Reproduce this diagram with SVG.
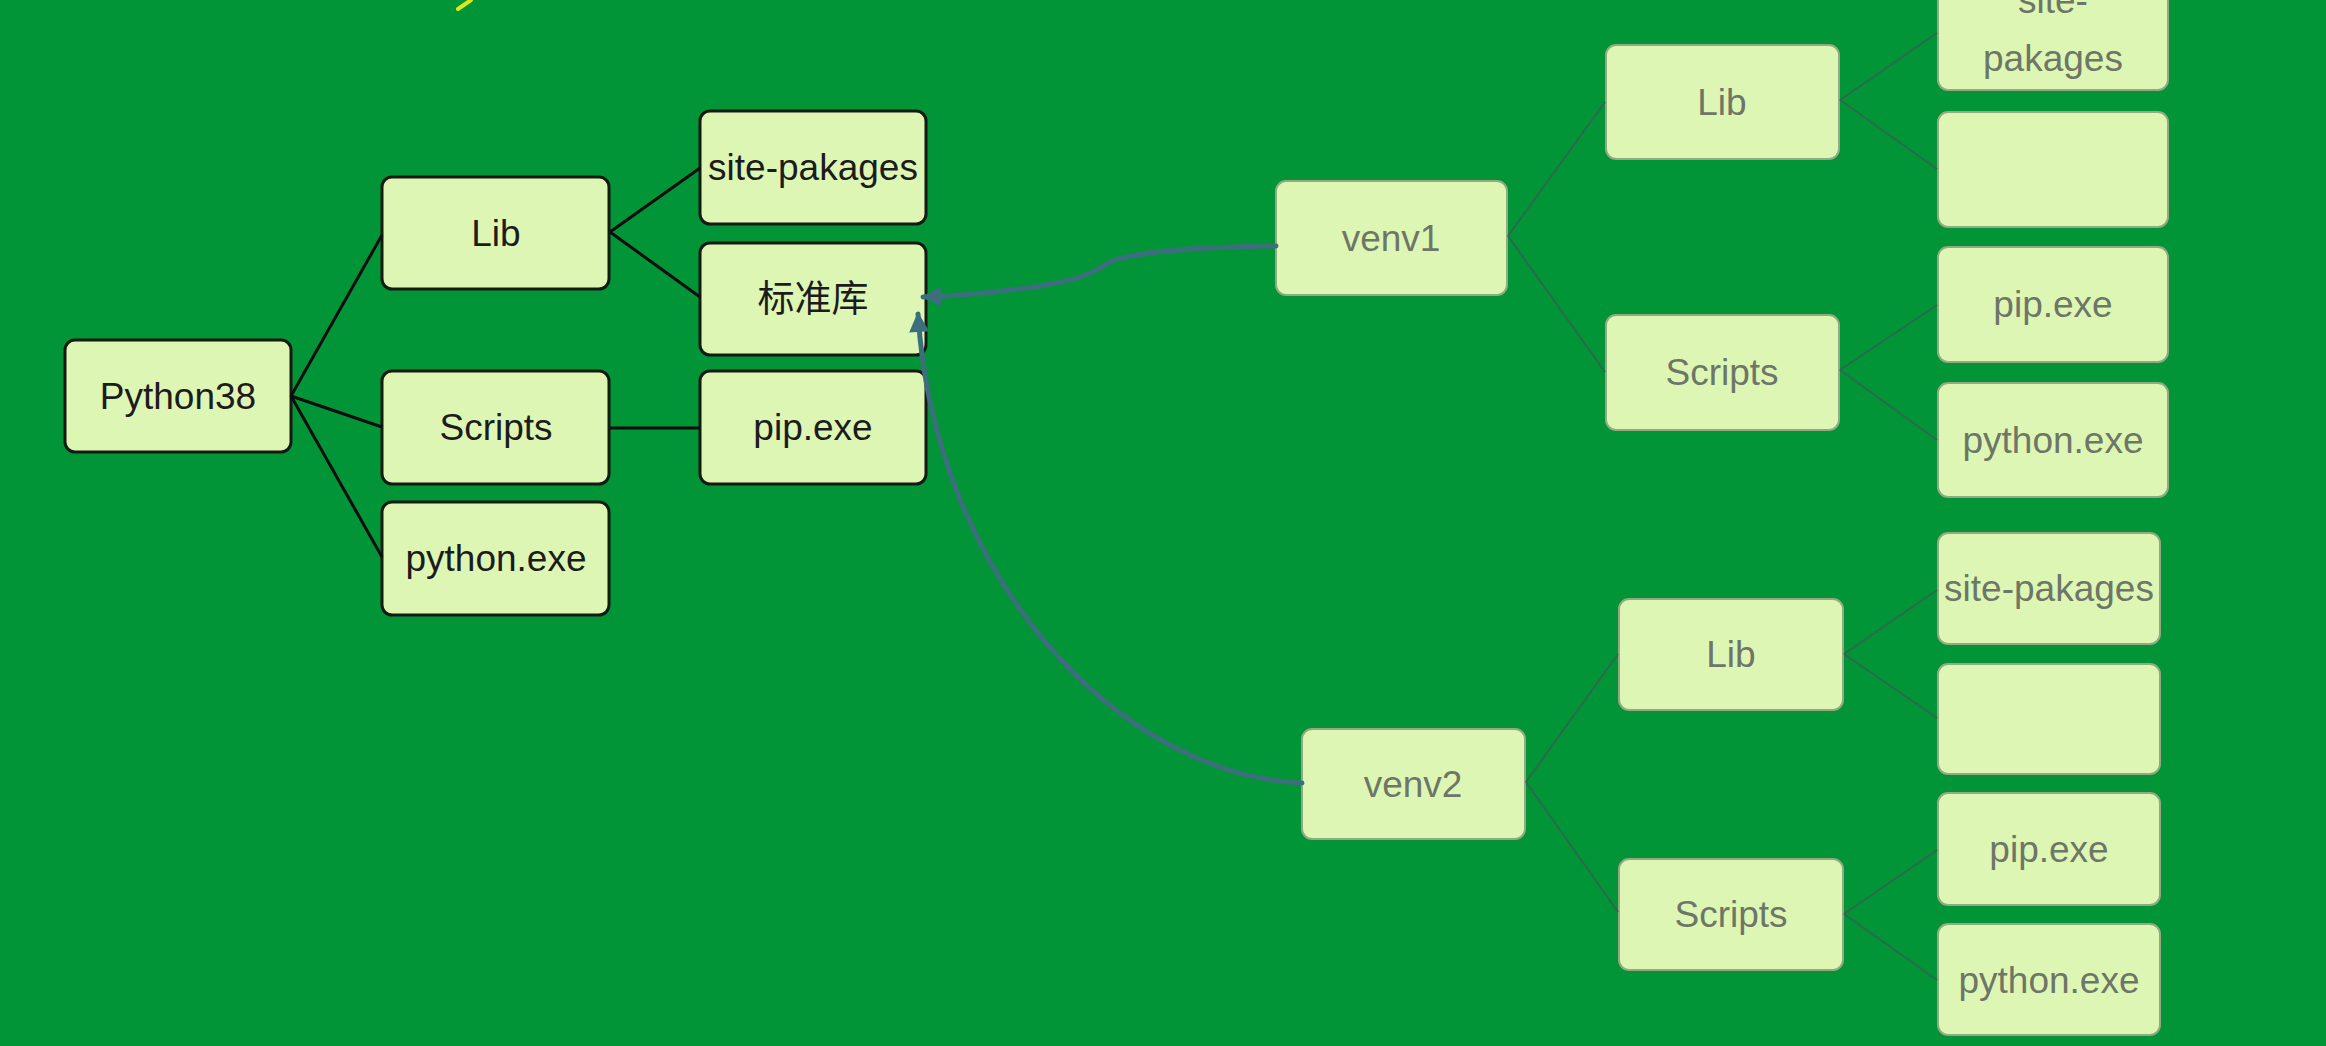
<svg xmlns="http://www.w3.org/2000/svg" width="2326" height="1046" viewBox="0 0 2326 1046">
  <defs>
    <style>
      .bg { fill: #019537; }
      .box { fill: #def6b4; stroke: #151a12; stroke-width: 3; }
      .vbox { fill: #def6b4; stroke: #93a982; stroke-width: 2; }
      .lbl { font-family: "Liberation Sans", "Noto Sans CJK SC", sans-serif; font-size: 37px; text-anchor: middle; fill: #1c1c1c; }
      .vlbl { font-family: "Liberation Sans", "Noto Sans CJK SC", sans-serif; font-size: 37px; text-anchor: middle; fill: #6d7667; }
      .edge { fill: none; stroke: #0d0d0d; stroke-width: 3; }
      .vedge { fill: none; stroke: #2d6a4c; stroke-width: 2; }
      .ref { fill: none; stroke: #3c6f7c; stroke-width: 5; stroke-linecap: round; }
    </style>
    <marker id="head" viewBox="0 0 10 10" refX="9" refY="5" markerWidth="4.4" markerHeight="4" markerUnits="strokeWidth" orient="auto">
      <path d="M0,0 L10,5 L0,10 z" fill="#3c6f7c"/>
    </marker>
  </defs>

  <rect class="bg" x="0" y="0" width="2326" height="1046"/>

  <!-- small yellow stroke at the top edge -->
  <path d="M471,0 L458,9" stroke="#d8e81c" stroke-width="4" fill="none" stroke-linecap="round"/>

  <!-- Python38 installation -->
  <g id="python38"><rect class="box" x="65" y="340" width="226" height="112" rx="10"/><text class="lbl" x="178" y="409">Python38</text></g>
  <g id="lib"><rect class="box" x="382" y="177" width="227" height="112" rx="10"/><text class="lbl" x="496" y="246">Lib</text></g>
  <g id="scripts"><rect class="box" x="382" y="371" width="227" height="113" rx="10"/><text class="lbl" x="496" y="440">Scripts</text></g>
  <g id="python-exe"><rect class="box" x="382" y="502" width="227" height="113" rx="10"/><text class="lbl" x="496" y="571">python.exe</text></g>
  <g id="site-pakages"><rect class="box" x="700" y="111" width="226" height="113" rx="10"/><text class="lbl" x="813" y="180">site-pakages</text></g>
  <g id="stdlib"><rect class="box" x="700" y="243" width="226" height="112" rx="10"/><text class="lbl" x="813" y="312">标准库</text></g>
  <g id="pip-exe"><rect class="box" x="700" y="371" width="226" height="113" rx="10"/><text class="lbl" x="813" y="440">pip.exe</text></g>

  <!-- venv1 -->
  <g id="venv1"><rect class="vbox" x="1276" y="181" width="231" height="114" rx="10"/><text class="vlbl" x="1391" y="251">venv1</text></g>
  <g id="venv1-lib"><rect class="vbox" x="1606" y="45" width="233" height="114" rx="10"/><text class="vlbl" x="1722" y="115">Lib</text></g>
  <g id="venv1-scripts"><rect class="vbox" x="1606" y="315" width="233" height="115" rx="10"/><text class="vlbl" x="1722" y="385">Scripts</text></g>
  <g id="venv1-site"><rect class="vbox" x="1938" y="-24" width="230" height="114" rx="10"/><text class="vlbl" x="2053" y="13">site-</text><text class="vlbl" x="2053" y="71">pakages</text></g>
  <g id="venv1-empty"><rect class="vbox" x="1938" y="112" width="230" height="115" rx="10"/></g>
  <g id="venv1-pip"><rect class="vbox" x="1938" y="247" width="230" height="115" rx="10"/><text class="vlbl" x="2053" y="317">pip.exe</text></g>
  <g id="venv1-python"><rect class="vbox" x="1938" y="383" width="230" height="114" rx="10"/><text class="vlbl" x="2053" y="453">python.exe</text></g>

  <!-- venv2 -->
  <g id="venv2"><rect class="vbox" x="1302" y="729" width="223" height="110" rx="10"/><text class="vlbl" x="1413" y="797">venv2</text></g>
  <g id="venv2-lib"><rect class="vbox" x="1619" y="599" width="224" height="111" rx="10"/><text class="vlbl" x="1731" y="667">Lib</text></g>
  <g id="venv2-scripts"><rect class="vbox" x="1619" y="859" width="224" height="111" rx="10"/><text class="vlbl" x="1731" y="927">Scripts</text></g>
  <g id="venv2-site"><rect class="vbox" x="1938" y="533" width="222" height="111" rx="10"/><text class="vlbl" x="2049" y="601">site-pakages</text></g>
  <g id="venv2-empty"><rect class="vbox" x="1938" y="664" width="222" height="110" rx="10"/></g>
  <g id="venv2-pip"><rect class="vbox" x="1938" y="793" width="222" height="112" rx="10"/><text class="vlbl" x="2049" y="862">pip.exe</text></g>
  <g id="venv2-python"><rect class="vbox" x="1938" y="924" width="222" height="111" rx="10"/><text class="vlbl" x="2049" y="993">python.exe</text></g>

  <!-- connectors, drawn last so the arrowheads sit over the boxes -->
  <g id="connectors">
    <!-- Python38 tree -->
    <path class="edge" d="M291,396 L382,235"/>
    <path class="edge" d="M291,396 L382,427"/>
    <path class="edge" d="M291,396 L382,557"/>
    <path class="edge" d="M610,232 L700,168"/>
    <path class="edge" d="M610,232 L700,297"/>
    <path class="edge" d="M610,428 L700,428" stroke-width="5"/>
    <!-- venv1 tree -->
    <path class="vedge" d="M1508,236 L1605,102"/>
    <path class="vedge" d="M1508,236 L1605,372"/>
    <path class="vedge" d="M1840,100 L1937,33"/>
    <path class="vedge" d="M1840,100 L1937,169"/>
    <path class="vedge" d="M1840,370 L1937,305"/>
    <path class="vedge" d="M1840,370 L1937,440"/>
    <!-- venv2 tree -->
    <path class="vedge" d="M1526,782 L1618,654"/>
    <path class="vedge" d="M1526,782 L1618,912"/>
    <path class="vedge" d="M1844,654 L1937,590"/>
    <path class="vedge" d="M1844,654 L1937,718"/>
    <path class="vedge" d="M1844,914 L1937,850"/>
    <path class="vedge" d="M1844,914 L1937,980"/>
    <!-- references to the standard library -->
    <path class="ref" marker-end="url(#head)" d="M1276,246 C1200,247 1125,252 1106,264 C1092,274 1080,279 1040,286 C1000,292 960,296 923,297"/>
    <path class="ref" marker-end="url(#head)" d="M1302,783 C1120,775 935,580 918,314"/>
  </g>
</svg>
